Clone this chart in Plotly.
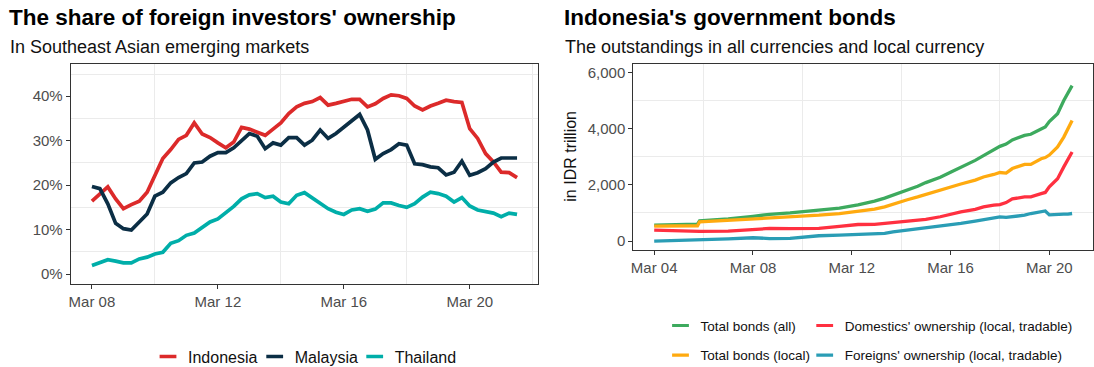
import pandas as pd
import plotly.graph_objects as go

# ---------------- Left chart: share of foreign investors' ownership (%) ----------------
quarters = pd.date_range("2008-03-01", "2021-09-01", freq="3MS")
countries = ["Indonesia", "Malaysia", "Thailand"]
country_colors = ["#dc2a2a", "#0b2e45", "#00aea9"]
indonesia = [16.4, 18.1, 19.6, 16.9, 14.7, 15.6, 16.4, 18.4, 22.2, 26.0,
             28.0, 30.3, 31.2, 34.0, 31.5, 30.7, 29.5, 28.4, 29.7, 33.0,
             32.6, 32.0, 31.2, 32.6, 34.0, 36.1, 37.6, 38.4, 38.8, 39.7,
             38.0, 38.4, 38.8, 39.3, 39.3, 37.6, 38.3, 39.5, 40.3, 40.1,
             39.5, 37.8, 36.9, 37.8, 38.4, 39.1, 38.8, 38.6, 32.7, 30.5,
             27.1, 25.2, 22.9, 22.8, 21.7]
malaysia = [19.7, 19.2, 15.8, 11.4, 10.2, 9.9, 11.7, 13.5, 17.5, 18.4,
            20.5, 21.7, 22.6, 25.0, 25.2, 26.5, 27.3, 27.3, 28.4, 30.1,
            31.6, 31.0, 28.2, 29.5, 29.0, 30.7, 30.7, 29.0, 30.1, 32.4,
            30.5, 31.6, 33.1, 34.6, 35.9, 32.4, 25.8, 27.1, 28.0, 29.3,
            29.0, 24.8, 24.6, 24.1, 23.9, 22.3, 22.9, 25.4, 22.2, 22.8,
            23.7, 25.2, 26.1, 26.1, 26.1]
thailand = [1.9, 2.6, 3.2, 2.9, 2.5, 2.5, 3.4, 3.8, 4.5, 4.9,
            6.9, 7.5, 8.7, 9.2, 10.5, 11.7, 12.4, 13.7, 15.2, 16.9,
            17.8, 18.1, 17.2, 17.5, 16.2, 15.8, 17.7, 18.3, 17.1, 16.0,
            14.7, 13.9, 13.4, 14.4, 14.7, 14.1, 14.6, 16.0, 16.0, 15.4,
            15.0, 15.8, 17.3, 18.4, 18.1, 17.5, 16.2, 17.2, 15.3, 14.4,
            14.1, 13.7, 12.9, 13.7, 13.4]
left_tick_dates = ["2008-03-01", "2012-03-01", "2016-03-01", "2020-03-01"]
left_minor_dates = ["2010-03-01", "2014-03-01", "2018-03-01", "2022-03-01"]
left_y_ticks = [0, 10, 20, 30, 40]
left_y_labels = ["0%", "10%", "20%", "30%", "40%"]
left_y_minor = [5, 15, 25, 35, 45]

# ---------------- Right chart: Indonesia's government bonds (IDR trillion) ----------------
bond_dates = ["2004-03-01", "2005-12-01", "2006-01-01", "2007-03-01", "2008-03-01",
              "2008-11-01", "2009-09-01", "2010-03-01", "2010-11-01", "2011-09-01",
              "2012-06-01", "2013-02-01", "2013-07-01", "2013-11-01", "2014-06-01",
              "2014-11-01", "2015-03-01", "2015-10-01", "2016-03-01", "2016-08-01",
              "2017-03-01", "2017-07-01", "2017-12-01", "2018-03-01", "2018-06-01",
              "2018-09-01", "2019-03-01", "2019-06-01", "2019-11-01", "2020-01-01",
              "2020-03-01", "2020-07-01", "2020-10-01", "2020-12-01", "2021-02-01"]
bond_series = ["Total bonds (all)", "Total bonds (local)",
               "Domestics' ownership (local, tradable)", "Foreigns' ownership (local, tradable)"]
bond_colors = ["#3daa5e", "#ffaa0f", "#ff3040", "#2a9db5"]
total_all = [567, 600, 720, 790, 880, 950, 1000, 1040, 1100, 1170,
             1290, 1420, 1530, 1640, 1800, 1950, 2080, 2270, 2450, 2620,
             2870, 3040, 3230, 3370, 3450, 3600, 3760, 3800, 3990, 4060,
             4250, 4530, 5000, 5250, 5530]
total_local = [532, 545, 680, 735, 800, 840, 865, 890, 920, 980,
               1050, 1140, 1220, 1320, 1470, 1570, 1660, 1810, 1930, 2030,
               2170, 2280, 2370, 2440, 2420, 2580, 2730, 2730, 2930, 2970,
               3060, 3350, 3700, 4000, 4290]
domestic = [390, 355, 345, 355, 414, 449, 440, 437, 449, 520,
            590, 595, 626, 665, 709, 725, 770, 865, 955, 1040,
            1125, 1215, 1275, 1300, 1370, 1500, 1570, 1575, 1690, 1730,
            1930, 2220, 2640, 2900, 3168]
foreign = [0, 35, 40, 75, 118, 90, 95, 130, 189, 215,
           248, 250, 272, 331, 390, 449, 473, 532, 591, 626,
           709, 768, 839, 863, 840, 863, 922, 981, 1064, 1070,
           930, 957, 957, 960, 981]
right_tick_dates = ["2004-03-01", "2008-03-01", "2012-03-01", "2016-03-01", "2020-03-01"]
right_minor_dates = ["2006-03-01", "2010-03-01", "2014-03-01", "2018-03-01"]
right_y_ticks = [0, 2000, 4000, 6000]
right_y_minor = [1000, 3000, 5000]

# ---------------- helpers ----------------
W, H = 1094, 367
FONT = "Liberation Sans, Arial, Helvetica, sans-serif"


def px(x):
    return x / W


def py(y):
    return 1 - y / H


def padded_range(dates, frac=0.05):
    d = pd.to_datetime(pd.Series(dates))
    pad = (d.max() - d.min()) * frac
    return [d.min() - pad, d.max() + pad]


fig = go.Figure()

for name, vals, col in zip(countries, [indonesia, malaysia, thailand], country_colors):
    fig.add_trace(go.Scatter(x=quarters, y=vals, mode="lines", name=name,
                             line=dict(color=col, width=3.7), showlegend=False,
                             xaxis="x", yaxis="y"))

for name, vals, col in zip(bond_series, [total_all, total_local, domestic, foreign], bond_colors):
    fig.add_trace(go.Scatter(x=pd.to_datetime(bond_dates), y=vals, mode="lines", name=name,
                             line=dict(color=col, width=3.3), showlegend=False,
                             xaxis="x2", yaxis="y2"))

# ---------------- legends (one legend box per key, positioned like the original) ----------------
legends = {}
left_key_centers = [168, 274.7, 374.7]
for i, (name, col) in enumerate(zip(countries, country_colors)):
    lg = "legend" if i == 0 else f"legend{i + 1}"
    fig.add_trace(go.Scatter(x=[None], y=[None], mode="markers", name=name,
                             marker=dict(symbol="line-ew", size=12, color=col,
                                         line=dict(color=col, width=3.5)),
                             legend=lg, showlegend=True, xaxis="x", yaxis="y",
                             hoverinfo="skip"))
    legends[lg] = dict(x=px(left_key_centers[i] - 20), xanchor="left",
                       y=py(356.7), yanchor="middle",
                       font=dict(size=16, color="#111111", family=FONT),
                       bgcolor="rgba(0,0,0,0)", borderwidth=0)

right_key_pos = [(680.5, 325.7), (680.5, 355.3), (824.7, 325.7), (824.7, 355.3)]
for j, (name, col) in enumerate(zip(bond_series, bond_colors)):
    lg = f"legend{j + 4}"
    fig.add_trace(go.Scatter(x=[None], y=[None], mode="markers", name=name,
                             marker=dict(symbol="line-ew", size=12, color=col,
                                         line=dict(color=col, width=3.2)),
                             legend=lg, showlegend=True, xaxis="x2", yaxis="y2",
                             hoverinfo="skip"))
    kx, ky = right_key_pos[j]
    legends[lg] = dict(x=px(kx - 20), xanchor="left", y=py(ky), yanchor="middle",
                       font=dict(size=13.5, color="#111111", family=FONT),
                       bgcolor="rgba(0,0,0,0)", borderwidth=0)

# ---------------- axes ----------------
common = dict(showline=True, mirror=True, linecolor="#333333", linewidth=1,
              ticks="outside", ticklen=4, tickcolor="#333333", tickwidth=1,
              tickfont=dict(size=15, color="#4d4d4d", family=FONT),
              showgrid=False, zeroline=False, fixedrange=True)
grid_minor = dict(showgrid=True, gridcolor="#ebebeb", gridwidth=1, tickmode="array")

fig.update_layout(
    width=W, height=H, autosize=False,
    margin=dict(l=0, r=0, t=0, b=0, autoexpand=False),
    paper_bgcolor="white", plot_bgcolor="white",
    font=dict(family=FONT),
    xaxis=dict(domain=[px(70.7), px(538.3)], anchor="y", type="date",
               range=padded_range(quarters), tickmode="array",
               tickvals=left_tick_dates, tickformat="%b %y",
               minor=dict(tickvals=left_minor_dates, **grid_minor), **common),
    yaxis=dict(domain=[py(284), py(64)], anchor="x", range=[-2.25, 47.25],
               tickmode="array", tickvals=left_y_ticks, ticktext=left_y_labels,
               minor=dict(tickvals=left_y_minor, **grid_minor), **common),
    xaxis2=dict(domain=[px(633.3), px(1093)], anchor="y2", type="date",
                range=padded_range(bond_dates), tickmode="array",
                tickvals=right_tick_dates, tickformat="%b %y",
                minor=dict(tickvals=right_minor_dates, **grid_minor), **common),
    yaxis2=dict(domain=[py(249.5), py(64)], anchor="x2", range=[-300, 6300],
                tickmode="array", tickvals=right_y_ticks, tickformat=",d",
                minor=dict(tickvals=right_y_minor, **grid_minor), **common),
    **legends,
)

# ---------------- titles ----------------
annots = [
    dict(text="<b>The share of foreign investors' ownership</b>", x=px(7), y=py(3),
         size=22.5, color="#000000"),
    dict(text="In Southeast Asian emerging markets", x=px(7.5), y=py(35),
         size=18, color="#111111"),
    dict(text="<b>Indonesia's government bonds</b>", x=px(562), y=py(3),
         size=22.5, color="#000000"),
    dict(text="The outstandings in all currencies and local currency", x=px(562.5), y=py(35),
         size=18, color="#111111"),
]
for a in annots:
    fig.add_annotation(text=a["text"], x=a["x"], y=a["y"], xref="paper", yref="paper",
                       xanchor="left", yanchor="top", showarrow=False,
                       font=dict(size=a["size"], color=a["color"], family=FONT))

fig.add_annotation(text="in IDR trillion", x=px(571), y=py(156.7), xref="paper", yref="paper",
                   xanchor="center", yanchor="middle", textangle=-90, showarrow=False,
                   font=dict(size=16, color="#111111", family=FONT))

fig.write_html("out.html", config={"displayModeBar": False},
               post_script="document.body.style.margin='0';")
